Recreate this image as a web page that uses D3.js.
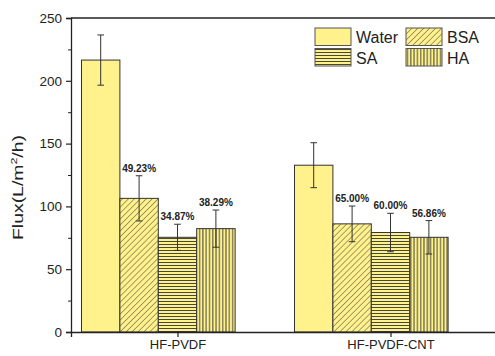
<!DOCTYPE html>
<html>
<head>
<meta charset="utf-8">
<script src="https://cdn.jsdelivr.net/npm/d3@7"></script>
<style>
  body { margin: 0; background: #fff; }
  text { font-family: Arial, "Liberation Sans", sans-serif; fill: #222; }
</style>
</head>
<body>
<div id="chart"></div>
<script>

// data
var groups = ['HF-PVDF', 'HF-PVDF-CNT']
var series = ['Water', 'BSA', 'SA', 'HA']
var waterFlux = [216.5, 132.8]
var waterErr = [20, 17.9]
var bsaFlux = [106.4, 86.1]
var bsaErr = [18, 14.2]
var saFlux = [75.4, 79.2]
var saErr = [10.4, 15.3]
var haFlux = [82.3, 75.4]
var haErr = [14.8, 13.3]
var bsaLabels = ['49.23%', '65.00%']
var saLabels = ['34.87%', '60.00%']
var haLabels = ['38.29%', '56.86%']
var yTicks = [0, 50, 100, 150, 200, 250]

var rows = [
    {name: 'Water', flux: waterFlux, err: waterErr, labels: null, fill: 'url(#none)'},
    {name: 'BSA', flux: bsaFlux, err: bsaErr, labels: bsaLabels, fill: 'url(#diag)'},
    {name: 'SA', flux: saFlux, err: saErr, labels: saLabels, fill: 'url(#horiz)'},
    {name: 'HA', flux: haFlux, err: haErr, labels: haLabels, fill: 'url(#vert)'}
]

var width = 495, height = 356
var margin = {top: 18, left: 71, bottom: 24}
var yellow = '#fff28c'
var ink = '#333'

var svg = d3.select('#chart')
    .append('svg')
        .attr('width', width)
        .attr('height', height)

// hatch patterns
var defs = svg.append('defs')
function pattern(id, w, h, lines, rot) {
    var p = defs.append('pattern')
        .attr('id', id)
        .attr('patternUnits', 'userSpaceOnUse')
        .attr('width', w)
        .attr('height', h)
    if (rot) p.attr('patternTransform', 'rotate(' + rot + ')')
    p.append('rect').attr('width', w).attr('height', h).attr('fill', yellow)
    lines.forEach(function(l) {
        p.append('line')
            .attr('x1', l[0]).attr('y1', l[1]).attr('x2', l[2]).attr('y2', l[3])
            .attr('stroke', ink)
            .attr('stroke-width', 0.9)
    })
}
pattern('none', 4, 4, [])
pattern('diag', 4.2, 4.2, [[0, 0, 0, 4.2]], 45)
pattern('horiz', 4, 3, [[0, 1.5, 4, 1.5]])
pattern('vert', 3.3, 4, [[1.6, 0, 1.6, 4]])

var x = d3.scaleLinear()
    .domain([0.5, 2.5])
    .range([margin.left, 497])

var y = d3.scaleLinear()
    .domain([0, 250])
    .range([height - margin.bottom, margin.top])

var bw = 38.4
var inner = d3.scaleBand()
    .domain(series)
    .range([-2.5 * bw, 1.5 * bw])

// bars
rows.forEach(function(r) {
    groups.forEach(function(g, i) {
        var x0 = x(i + 1) + inner(r.name)
        svg.append('rect')
            .attr('x', x0)
            .attr('y', y(r.flux[i]))
            .attr('width', inner.bandwidth())
            .attr('height', y(0) - y(r.flux[i]))
            .attr('fill', r.fill)
            .attr('stroke', ink)
            .attr('stroke-width', 1)

        var cx = x0 + inner.bandwidth() / 2
        var top = y(r.flux[i] + r.err[i])
        var bot = y(r.flux[i] - r.err[i])
        svg.append('line')
            .attr('x1', cx).attr('x2', cx).attr('y1', top).attr('y2', bot)
            .attr('stroke', ink)
        svg.append('line')
            .attr('x1', cx - 3.3).attr('x2', cx + 3.3).attr('y1', top).attr('y2', top)
            .attr('stroke', ink)
        svg.append('line')
            .attr('x1', cx - 3.3).attr('x2', cx + 3.3).attr('y1', bot).attr('y2', bot)
            .attr('stroke', ink)

        if (r.labels) {
            svg.append('text')
                .attr('x', cx)
                .attr('y', top - 4)
                .attr('text-anchor', 'middle')
                .style('font-size', '10px')
                .style('font-weight', 'bold')
                .text(r.labels[i])
        }
    })
})

// frame
svg.append('line')
    .attr('x1', margin.left).attr('x2', width).attr('y1', y(250)).attr('y2', y(250))
    .attr('stroke', '#222').attr('stroke-width', 1.3)

var yAxis = svg.append('g')
    .attr('transform', 'translate(' + margin.left + ',0)')
    .call(d3.axisLeft(y).tickValues(yTicks).tickSize(5).tickPadding(4))
yAxis.select('.domain').attr('stroke', '#222').attr('stroke-width', 1.3)
yAxis.selectAll('.tick line').attr('stroke', '#222').attr('stroke-width', 1.2)
yAxis.selectAll('text').style('font-size', '13.5px').attr('fill', '#222')

svg.append('g')
    .attr('transform', 'translate(' + margin.left + ',0)')
    .call(d3.axisLeft(y).tickValues([25, 75, 125, 175, 225]).tickSize(3).tickFormat(''))
    .call(function(g) { g.select('.domain').remove() })
    .selectAll('line').attr('stroke', '#222')

var xAxis = svg.append('g')
    .attr('transform', 'translate(0,' + y(0) + ')')
    .call(d3.axisBottom(x).tickValues([1, 2]).tickFormat(function(d) { return groups[d - 1] }).tickSize(5).tickPadding(3))
xAxis.select('.domain').attr('stroke', '#222').attr('stroke-width', 1.3)
xAxis.selectAll('.tick line').attr('stroke', '#222').attr('stroke-width', 1.2)
xAxis.selectAll('text').style('font-size', '13px').attr('fill', '#222')

// y label, stretched along its length like the original
var yl = svg.append('text')
    .attr('text-anchor', 'middle')
    .style('font-size', '14px')
yl.append('tspan').text('Flux(L/m')
yl.append('tspan').attr('dy', -5.5).style('font-size', '9px').text('2')
yl.append('tspan').attr('dy', 5.5).text('/h)')
var natural = yl.node().getComputedTextLength()
yl.attr('transform', 'translate(22.5,187.5) rotate(-90) scale(' + (105 / natural) + ',1)')

// legend
var legend = svg.append('g')
rows.forEach(function(r, i) {
    var lx = 315 + (i % 2) * 91
    var ly = 28 + Math.floor(i / 2) * 20.5
    legend.append('rect')
        .attr('x', lx).attr('y', ly)
        .attr('width', 36).attr('height', 17.5)
        .attr('fill', r.fill)
        .attr('stroke', '#555')
    legend.append('text')
        .attr('x', lx + 41).attr('y', ly + 15)
        .style('font-size', '16px')
        .text(r.name)
})

</script>
</body>
</html>
